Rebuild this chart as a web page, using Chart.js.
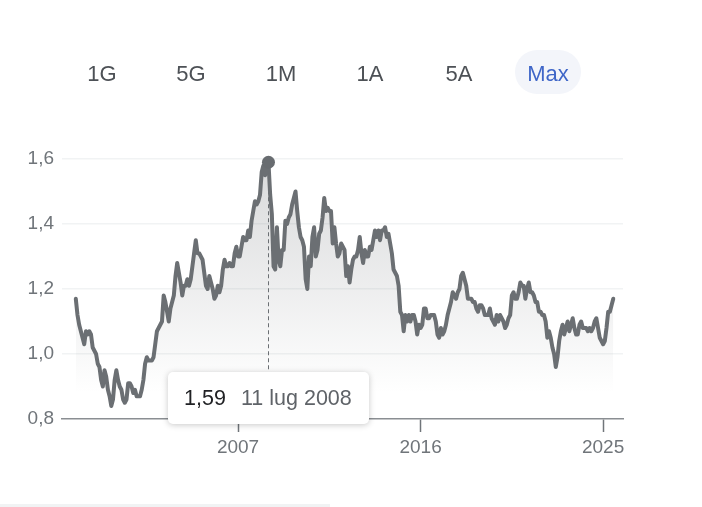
<!DOCTYPE html>
<html>
<head>
<meta charset="utf-8">
<script src="https://cdn.jsdelivr.net/npm/chart.js@4.4.1/dist/chart.umd.min.js"></script>
<style>
html,body{margin:0;padding:0;background:#fff;}
#wrap{position:relative;width:702px;height:507px;}
</style>
</head>
<body>
<div id="wrap"><canvas id="c"></canvas></div>
<script>
// ---- data ----
const rangeLabels = ["1G", "5G", "1M", "1A", "5A", "Max"];
const activeRange = "Max";
const startYear = 1999; // monthly points starting January 1999
const values = [
  // 1999
  1.17, 1.12, 1.09, 1.07, 1.05, 1.03, 1.07, 1.06, 1.07, 1.06, 1.02, 1.01,
  // 2000
  1.00, 0.97, 0.96, 0.92, 0.90, 0.95, 0.93, 0.89, 0.87, 0.84, 0.86, 0.92,
  // 2001
  0.95, 0.92, 0.90, 0.89, 0.86, 0.85, 0.86, 0.91, 0.91, 0.90, 0.88, 0.89,
  // 2002
  0.87, 0.87, 0.87, 0.89, 0.92, 0.97, 0.99, 0.98, 0.98, 0.98, 0.99, 1.03,
  // 2003
  1.07, 1.08, 1.09, 1.10, 1.18, 1.16, 1.13, 1.10, 1.14, 1.16, 1.18, 1.24,
  // 2004
  1.28, 1.25, 1.22, 1.18, 1.21, 1.21, 1.23, 1.21, 1.23, 1.27, 1.31, 1.35,
  // 2005
  1.31, 1.31, 1.30, 1.29, 1.25, 1.21, 1.20, 1.24, 1.22, 1.20, 1.17, 1.18,
  // 2006
  1.21, 1.19, 1.21, 1.26, 1.29, 1.27, 1.27, 1.28, 1.27, 1.27, 1.31, 1.33,
  // 2007
  1.30, 1.30, 1.33, 1.36, 1.35, 1.35, 1.38, 1.36, 1.41, 1.44, 1.47, 1.46,
  // 2008
  1.47, 1.49, 1.56, 1.58, 1.55, 1.57, 1.59, 1.49, 1.43, 1.27, 1.26, 1.39,
  // 2009
  1.29, 1.27, 1.32, 1.32, 1.41, 1.40, 1.42, 1.43, 1.46, 1.48, 1.50, 1.44,
  // 2010
  1.39, 1.36, 1.35, 1.33, 1.23, 1.20, 1.30, 1.27, 1.36, 1.39, 1.30, 1.32,
  // 2011
  1.37, 1.38, 1.42, 1.48, 1.44, 1.45, 1.44, 1.44, 1.34, 1.39, 1.34, 1.30,
  // 2012
  1.31, 1.34, 1.33, 1.32, 1.24, 1.27, 1.22, 1.26, 1.29, 1.30, 1.30, 1.32,
  // 2013
  1.36, 1.31, 1.28, 1.32, 1.30, 1.30, 1.33, 1.32, 1.35, 1.38, 1.36, 1.38,
  // 2014
  1.35, 1.38, 1.38, 1.39, 1.36, 1.37, 1.34, 1.31, 1.26, 1.25, 1.24, 1.21,
  // 2015
  1.13, 1.12, 1.07, 1.12, 1.10, 1.12, 1.10, 1.12, 1.12, 1.10, 1.06, 1.09,
  // 2016
  1.08, 1.09, 1.14, 1.14, 1.11, 1.11, 1.12, 1.12, 1.12, 1.10, 1.06, 1.05,
  // 2017
  1.08, 1.06, 1.07, 1.09, 1.12, 1.14, 1.16, 1.19, 1.18, 1.17, 1.19, 1.20,
  // 2018
  1.24, 1.25, 1.23, 1.21, 1.17, 1.17, 1.17, 1.16, 1.16, 1.14, 1.13, 1.15,
  // 2019
  1.15, 1.14, 1.12, 1.12, 1.12, 1.14, 1.11, 1.10, 1.09, 1.12, 1.10, 1.12,
  // 2020
  1.11, 1.10, 1.08, 1.09, 1.11, 1.12, 1.18, 1.19, 1.17, 1.17, 1.19, 1.22,
  // 2021
  1.21, 1.21, 1.17, 1.20, 1.22, 1.19, 1.19, 1.18, 1.16, 1.16, 1.13, 1.13,
  // 2022
  1.12, 1.12, 1.10, 1.05, 1.07, 1.05, 1.02, 1.00, 0.96, 0.99, 1.04, 1.07,
  // 2023
  1.09, 1.06, 1.08, 1.10, 1.07, 1.09, 1.11, 1.08, 1.06, 1.06, 1.09, 1.10,
  // 2024
  1.08, 1.08, 1.08, 1.07, 1.08, 1.07, 1.08, 1.10, 1.11, 1.08, 1.05, 1.04,
  // 2025
  1.03, 1.04, 1.08, 1.13, 1.13, 1.15, 1.17
];
const xTickYears = [2007, 2016, 2025];
const yTicks = [0.8, 1.0, 1.2, 1.4, 1.6];
const tooltipValue = "1,59";
const tooltipDate = "11 lug 2008";

// ---- build ----
const points = values.map((v, i) => ({ x: startYear + i / 12, y: v }));
let peakIdx = 0;
values.forEach((v, i) => { if (v > values[peakIdx]) peakIdx = i; });

const FONT = "Arial, 'Liberation Sans', sans-serif";
const lineColor = "#6b6f73";

const topUI = {
  id: "topUI",
  beforeDraw(chart) {
    const ctx = chart.ctx;
    ctx.save();
    ctx.fillStyle = "#ffffff";
    ctx.fillRect(0, 0, chart.width, chart.height);
    const centers = [102, 191, 281, 370, 459, 548];
    ctx.font = "22px " + FONT;
    ctx.textAlign = "center";
    ctx.textBaseline = "alphabetic";
    rangeLabels.forEach((lab, i) => {
      const cx = centers[i];
      if (lab === activeRange) {
        ctx.fillStyle = "#f3f5fa";
        ctx.beginPath();
        ctx.roundRect(cx - 33, 50, 66, 44, 22);
        ctx.fill();
        ctx.fillStyle = "#3f66c8";
      } else {
        ctx.fillStyle = "#4d5156";
      }
      ctx.fillText(lab, cx, 81);
    });
    // faint bottom divider
    ctx.fillStyle = "#f1f3f4";
    ctx.fillRect(0, 504, 330, 3);
    ctx.restore();
  },
  afterDatasetsDraw(chart) {
    const ctx = chart.ctx;
    const meta = chart.getDatasetMeta(0);
    const p = meta.data[peakIdx];
    ctx.save();
    // dashed guide line
    ctx.strokeStyle = "#6b6f73";
    ctx.lineWidth = 1;
    ctx.setLineDash([4, 3]);
    ctx.beginPath();
    ctx.moveTo(Math.round(p.x) + 0.5, p.y);
    ctx.lineTo(Math.round(p.x) + 0.5, 372);
    ctx.stroke();
    ctx.setLineDash([]);
    // peak point
    ctx.fillStyle = "#686c70";
    ctx.beginPath();
    ctx.arc(p.x, p.y, 6.5, 0, Math.PI * 2);
    ctx.fill();
    // tooltip box
    ctx.shadowColor = "rgba(0,0,0,0.22)";
    ctx.shadowBlur = 6;
    ctx.shadowOffsetY = 1;
    ctx.fillStyle = "#ffffff";
    ctx.beginPath();
    ctx.roundRect(168, 372, 201, 52, 5);
    ctx.fill();
    ctx.shadowColor = "transparent";
    ctx.font = "21.5px " + FONT;
    ctx.textAlign = "left";
    ctx.textBaseline = "alphabetic";
    ctx.fillStyle = "#202124";
    ctx.fillText(tooltipValue, 184, 405);
    ctx.fillStyle = "#5f6368";
    ctx.fillText(tooltipDate, 241, 405);
    ctx.restore();
  }
};

new Chart(document.getElementById("c"), {
  type: "line",
  data: {
    datasets: [{
      data: points,
      borderColor: lineColor,
      borderWidth: 4,
      borderJoinStyle: "round",
      borderCapStyle: "round",
      pointRadius: 0,
      tension: 0,
      fill: "start",
      backgroundColor(ctx) {
        const ca = ctx.chart.chartArea;
        if (!ca) return "rgba(0,0,0,0)";
        const g = ctx.chart.ctx.createLinearGradient(0, ca.top, 0, ca.bottom);
        g.addColorStop(0, "rgba(95,99,104,0.24)");
        g.addColorStop(0.5, "rgba(95,99,104,0.11)");
        g.addColorStop(0.9, "rgba(95,99,104,0.0)");
        return g;
      }
    }]
  },
  options: {
    responsive: true,
    maintainAspectRatio: false,
    animation: false,
    events: [],
    layout: { padding: { left: 0, top: 159, right: 79, bottom: 48 } },
    plugins: { legend: { display: false }, tooltip: { enabled: false } },
    scales: {
      x: {
        type: "linear",
        min: 1998.32,
        max: 2025.98,
        afterBuildTicks(scale) { scale.ticks = xTickYears.map(v => ({ value: v })); },
        afterFit(scale) { scale.height = 40; },
        grid: { drawOnChartArea: false, drawTicks: true, tickLength: 13, tickColor: "#70757a", tickWidth: 1.5 },
        border: { display: true, color: "#8a8e92", width: 1.5 },
        ticks: { padding: 4, maxRotation: 0, color: "#70757a", font: { family: FONT, size: 19 }, callback: v => String(v) }
      },
      y: {
        min: 0.8,
        max: 1.6,
        afterBuildTicks(scale) { scale.ticks = yTicks.map(v => ({ value: v })); },
        afterFit(scale) { scale.width = 62; },
        grid: {
          drawTicks: false,
          color: c => (c.tick && Math.abs(c.tick.value - 0.8) < 1e-6) ? "rgba(0,0,0,0)" : "#f1f3f4",
          lineWidth: 1.5
        },
        border: { display: false },
        ticks: {
          padding: 8,
          color: "#70757a",
          font: { family: FONT, size: 19 },
          callback: v => v.toFixed(1).replace(".", ",")
        }
      }
    }
  },
  plugins: [topUI]
});
</script>
</body>
</html>
